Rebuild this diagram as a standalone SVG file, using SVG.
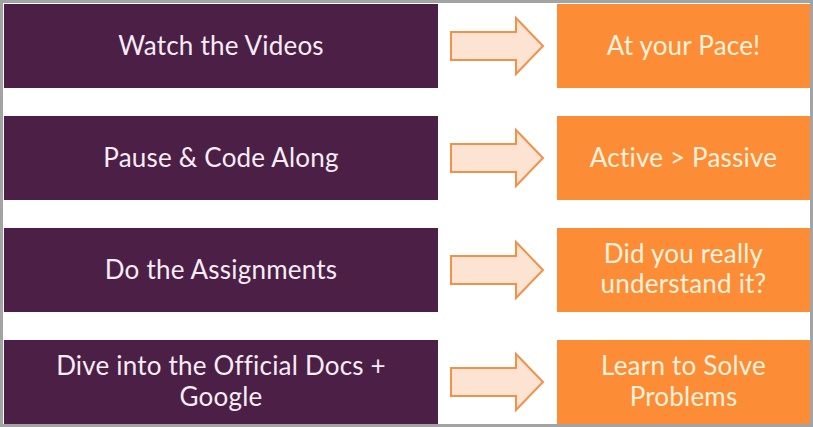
<svg xmlns="http://www.w3.org/2000/svg" width="813" height="427" viewBox="0 0 813 427">
  <style>
    .step { fill: #4b1f46; }
    .result { fill: #fd8c36; }
    .arrow { fill: #fde3d1; stroke: #f0924a; stroke-width: 2; stroke-linejoin: miter; }
    text { font-family: Lato, "Open Sans", "Liberation Sans", sans-serif; font-size: 26px; text-anchor: middle; letter-spacing: 0.2px; }
    .step-label { fill: #f6ecf3; }
    .result-label { fill: #fff2dc; }
  </style>
  <defs>
    <!-- block arrow centred on y=0 -->
    <path id="block-arrow" d="M451,-14 L516,-14 L516,-28 L543,0 L516,28 L516,14 L451,14 Z"/>
  </defs>

  <rect x="1.5" y="1.5" width="810" height="424" fill="#ffffff" stroke="#a3a3a3" stroke-width="3"/>

  <g id="row1-step"><rect class="step" x="4" y="4" width="434" height="84"/><text class="step-label" x="221" y="55">Watch the Videos</text></g>
  <g id="row1-result"><rect class="result" x="557" y="4" width="253" height="84"/><text class="result-label" x="683.5" y="55">At your Pace!</text></g>

  <g id="row2-step"><rect class="step" x="4" y="116" width="434" height="84"/><text class="step-label" x="221" y="167">Pause &amp; Code Along</text></g>
  <g id="row2-result"><rect class="result" x="557" y="116" width="253" height="84"/><text class="result-label" x="683.5" y="167">Active &gt; Passive</text></g>

  <g id="row3-step"><rect class="step" x="4" y="228" width="434" height="84"/><text class="step-label" x="221" y="279">Do the Assignments</text></g>
  <g id="row3-result"><rect class="result" x="557" y="228" width="253" height="84"/><text class="result-label" x="683.5" y="263">Did you really</text><text class="result-label" x="683.5" y="293">understand it?</text></g>

  <g id="row4-step"><rect class="step" x="4" y="340" width="434" height="84"/><text class="step-label" x="221" y="375">Dive into the Official Docs +</text><text class="step-label" x="221" y="406">Google</text></g>
  <g id="row4-result"><rect class="result" x="557" y="340" width="253" height="84"/><text class="result-label" x="683.5" y="375">Learn to Solve</text><text class="result-label" x="683.5" y="406">Problems</text></g>

  <g id="connectors">
    <use href="#block-arrow" class="arrow" transform="translate(0,46)"/>
    <use href="#block-arrow" class="arrow" transform="translate(0,158)"/>
    <use href="#block-arrow" class="arrow" transform="translate(0,270)"/>
    <use href="#block-arrow" class="arrow" transform="translate(0,382)"/>
  </g>
</svg>
